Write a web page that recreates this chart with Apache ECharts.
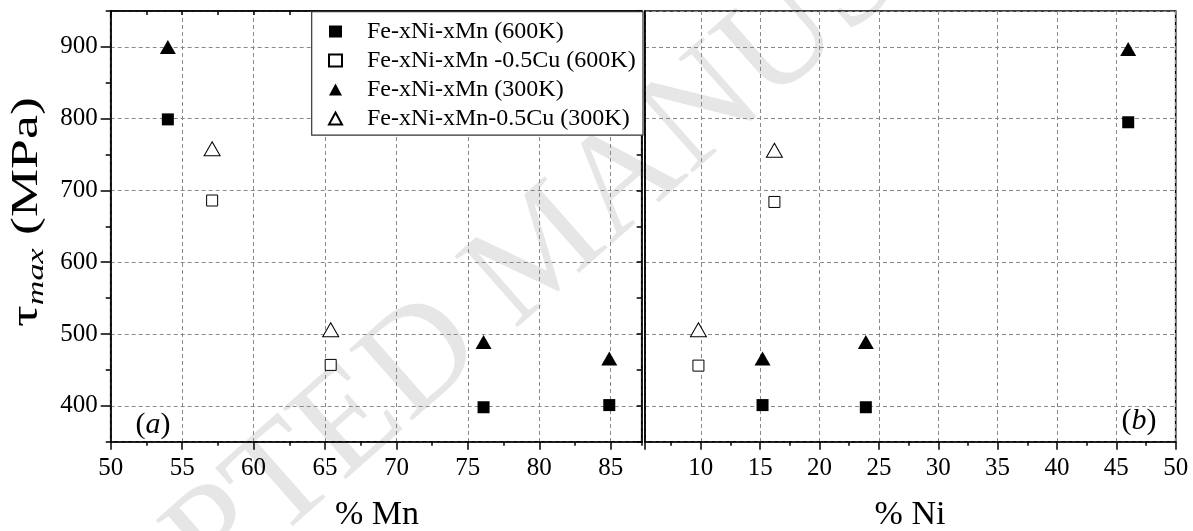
<!DOCTYPE html>
<html>
<head>
<meta charset="utf-8">
<script src="https://cdn.jsdelivr.net/npm/echarts@6/dist/echarts.min.js"></script>
<style>
  html, body { margin: 0; padding: 0; background: #fff; }
  #chart { width: 1193px; height: 531px; }
</style>
</head>
<body>
<div id="chart"></div>
<script>
const SERIF = '"Liberation Serif", "Times New Roman", serif';

// Legend / series names
const seriesNames = [
  'Fe-xNi-xMn (600K)',
  'Fe-xNi-xMn -0.5Cu (600K)',
  'Fe-xNi-xMn (300K)',
  'Fe-xNi-xMn-0.5Cu (300K)'
];

// Panel (a): tau_max (MPa) against Mn content (%)
const mnPlain600 = [[54.0, 799], [76.1, 398], [84.9, 401]];
const mnCu600    = [[57.1, 686], [65.4, 457]];
const mnPlain300 = [[54.0, 900], [76.1, 489], [84.9, 466]];
const mnCu300    = [[57.1, 758], [65.4, 506]];

// Panel (b): tau_max (MPa) against Ni content (%)
const niPlain600 = [[46.0, 795], [15.2, 401], [23.9, 398]];
const niCu600    = [[16.2, 684], [9.8, 456]];
const niPlain300 = [[46.0, 897], [15.2, 466], [23.9, 489]];
const niCu300    = [[16.2, 756], [9.8, 506]];

// Tick labels
const mnTicks = [50, 55, 60, 65, 70, 75, 80, 85];
const niTicks = [10, 15, 20, 25, 30, 35, 40, 45, 50];
const stressTicks = [400, 500, 600, 700, 800, 900];

const MN_RANGE = [50, 87.17];
const NI_RANGE = [5.3, 50];
const STRESS_RANGE = [350, 950];

const AXIS_LINE = { show: true, lineStyle: { color: '#000', width: 1.6 } };
const GRID_LINE = { show: true, lineStyle: { color: '#8a8a8a', width: 1, type: [4, 3] } };
const LABEL = { color: '#000', fontFamily: SERIF, fontSize: 25 };

const filled = { color: '#000', opacity: 1 };
const hollow = { color: '#fff', borderColor: '#000', borderWidth: 1, opacity: 1 };

const styles = [
  { symbol: 'rect', symbolSize: 12, itemStyle: filled },
  { symbol: 'rect', symbolSize: 11, itemStyle: hollow },
  { symbol: 'triangle', symbolSize: [16, 14], itemStyle: filled },
  { symbol: 'triangle', symbolSize: [16, 14], itemStyle: hollow }
];

function scatter(i, data, gridIdx) {
  return Object.assign({
    name: seriesNames[i],
    type: 'scatter',
    xAxisIndex: gridIdx === 0 ? 0 : 3,
    yAxisIndex: gridIdx === 0 ? 0 : 3,
    data: data,
    z: 3,
    emphasis: { disabled: true }
  }, styles[i]);
}

const chart = echarts.init(document.getElementById('chart'), null, { renderer: 'canvas' });

chart.setOption({
  animation: false,
  backgroundColor: '#fff',
  grid: [
    { left: 110.7, top: 11, width: 531, height: 430.7, show: true, borderColor: '#000', borderWidth: 1.6, backgroundColor: 'transparent' },
    { left: 645, top: 11, width: 530.7, height: 430.7, show: true, borderColor: '#000', borderWidth: 1.6, backgroundColor: 'transparent' }
  ],
  xAxis: [
    { // (a) bottom, major ticks + labels
      type: 'value', gridIndex: 0, position: 'bottom',
      min: MN_RANGE[0], max: MN_RANGE[1], interval: 5,
      axisLine: AXIS_LINE,
      axisTick: { show: true, inside: false, length: 8, lineStyle: { color: '#000', width: 1.5 } },
      axisLabel: Object.assign({ margin: 14, showMaxLabel: false,
        formatter: v => (mnTicks.includes(v) ? String(v) : '') }, LABEL),
      splitLine: GRID_LINE
    },
    { // (a) bottom, minor ticks
      type: 'value', gridIndex: 0, position: 'bottom',
      min: MN_RANGE[0], max: MN_RANGE[1], interval: 2.5,
      axisLine: { show: false },
      axisTick: { show: true, inside: false, length: 4, lineStyle: { color: '#000', width: 1.5 } },
      axisLabel: { show: false }, splitLine: { show: false }
    },
    { // (a) top border ticks
      type: 'value', gridIndex: 0, position: 'top',
      min: MN_RANGE[0], max: MN_RANGE[1], interval: 2.5,
      axisLine: AXIS_LINE,
      axisTick: { show: true, inside: true, length: 4, lineStyle: { color: '#000', width: 1.5 } },
      axisLabel: { show: false }, splitLine: { show: false }
    },
    { // (b) bottom
      type: 'value', gridIndex: 1, position: 'bottom',
      min: NI_RANGE[0], max: NI_RANGE[1], splitNumber: 9,
      axisLine: AXIS_LINE,
      axisTick: { show: true, inside: false, length: 8, lineStyle: { color: '#000', width: 1.5 } },
      minorTick: { show: true, splitNumber: 2, length: 4, lineStyle: { color: '#000', width: 1.5 } },
      axisLabel: Object.assign({ margin: 14, showMinLabel: false,
        formatter: v => (niTicks.includes(v) ? String(v) : '') }, LABEL),
      splitLine: GRID_LINE
    }
  ],
  yAxis: [
    { // (a) left, major ticks + labels
      type: 'value', gridIndex: 0, position: 'left',
      min: STRESS_RANGE[0], max: STRESS_RANGE[1],
      axisLine: AXIS_LINE,
      axisTick: { show: true, inside: false, length: 10, lineStyle: { color: '#000', width: 1.5 } },
      axisLabel: Object.assign({ margin: 13, showMinLabel: false, showMaxLabel: false,
        formatter: v => (stressTicks.includes(v) ? String(v) : '') }, LABEL),
      splitLine: GRID_LINE
    },
    { // (a) left, minor ticks
      type: 'value', gridIndex: 0, position: 'left',
      min: STRESS_RANGE[0], max: STRESS_RANGE[1], interval: 50,
      axisLine: { show: false },
      axisTick: { show: true, inside: false, length: 5, lineStyle: { color: '#000', width: 1.5 } },
      axisLabel: { show: false }, splitLine: { show: false }
    },
    { // (a) right border ticks
      type: 'value', gridIndex: 0, position: 'right',
      min: STRESS_RANGE[0], max: STRESS_RANGE[1], interval: 50,
      axisLine: AXIS_LINE,
      axisTick: { show: true, inside: true, length: 5, lineStyle: { color: '#000', width: 1.5 } },
      axisLabel: { show: false }, splitLine: { show: false }
    },
    { // (b) left border, shared stress scale
      type: 'value', gridIndex: 1, position: 'left',
      min: STRESS_RANGE[0], max: STRESS_RANGE[1],
      axisLine: AXIS_LINE,
      axisTick: { show: false },
      axisLabel: { show: false },
      splitLine: GRID_LINE
    }
  ],
  legend: {
    data: seriesNames,
    orient: 'vertical',
    left: 328, top: 19.5,
    padding: 0,
    itemWidth: 13, itemHeight: 12,
    itemGap: 5,
    selectedMode: false,
    z: 6,
    textStyle: { color: '#000', fontFamily: SERIF, fontSize: 24, lineHeight: 24, padding: [0, 0, 0, 20] }
  },
  graphic: [
    { // diagonal watermark
      type: 'text', x: 545, y: 252, rotation: 0.724, z: -10, silent: true,
      style: { text: 'ACCEPTED MANUSCRIPT', fill: '#e6e6e6', font: '145px ' + SERIF,
               align: 'center', verticalAlign: 'middle' }
    },
    { // legend frame
      type: 'rect', z: 5, silent: true,
      shape: { x: 311.7, y: 11.7, width: 331.3, height: 123.5 },
      style: { fill: '#fff', stroke: '#333', lineWidth: 1.2 }
    },
    {
      type: 'text', x: 27, y: 212, rotation: Math.PI / 2, scaleX: 1.42, z: 10, silent: true,
      style: {
        text: '{t|τ}{s|max}{t| (MPa)}',
        align: 'center', verticalAlign: 'middle', fill: '#000',
        rich: {
          t: { fontFamily: SERIF, fontSize: 38, lineHeight: 44, fill: '#000' },
          s: { fontFamily: SERIF, fontSize: 24, fontStyle: 'italic', lineHeight: 24,
               verticalAlign: 'bottom', fill: '#000' }
        }
      }
    },
    {
      type: 'text', x: 377, y: 515, z: 10, silent: true,
      style: { text: '% Mn', fill: '#000', font: '34px ' + SERIF, align: 'center', verticalAlign: 'middle' }
    },
    {
      type: 'text', x: 910, y: 515, z: 10, silent: true,
      style: { text: '% Ni', fill: '#000', font: '34px ' + SERIF, align: 'center', verticalAlign: 'middle' }
    },
    {
      type: 'text', x: 153, y: 425, z: 10, silent: true,
      style: {
        text: '{p|(}{i|a}{p|)}', align: 'center', verticalAlign: 'middle',
        rich: {
          p: { fontFamily: SERIF, fontSize: 30, fill: '#000' },
          i: { fontFamily: SERIF, fontSize: 30, fontStyle: 'italic', fill: '#000' }
        }
      }
    },
    {
      type: 'text', x: 1139, y: 421, z: 10, silent: true,
      style: {
        text: '{p|(}{i|b}{p|)}', align: 'center', verticalAlign: 'middle',
        rich: {
          p: { fontFamily: SERIF, fontSize: 30, fill: '#000' },
          i: { fontFamily: SERIF, fontSize: 30, fontStyle: 'italic', fill: '#000' }
        }
      }
    }
  ],
  series: [
    scatter(0, mnPlain600, 0),
    scatter(1, mnCu600, 0),
    scatter(2, mnPlain300, 0),
    scatter(3, mnCu300, 0),
    scatter(0, niPlain600, 1),
    scatter(1, niCu600, 1),
    scatter(2, niPlain300, 1),
    scatter(3, niCu300, 1)
  ]
});
</script>
</body>
</html>
